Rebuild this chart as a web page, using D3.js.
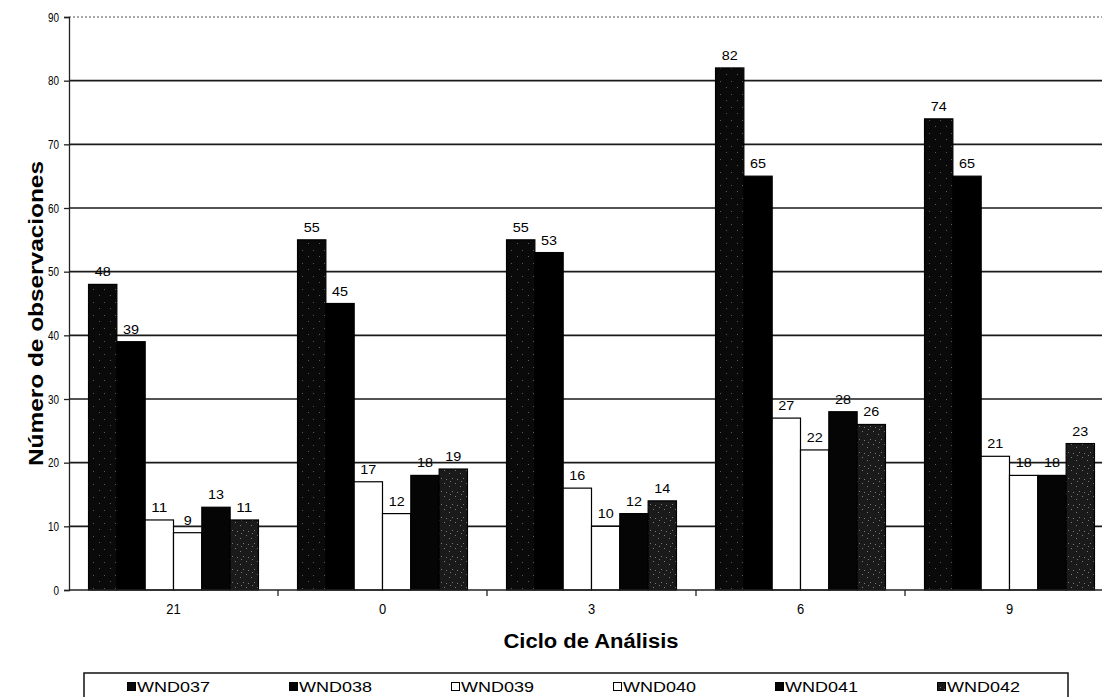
<!DOCTYPE html>
<html>
<head>
<meta charset="utf-8">
<script src="https://cdn.jsdelivr.net/npm/d3@7/dist/d3.min.js"></script>
<style>
  html, body { margin: 0; padding: 0; background: #fff; }
  svg { display: block; }
  text { font-family: "Liberation Sans", Arial, sans-serif; fill: #000; }
</style>
</head>
<body>
<svg id="chart" width="1102" height="697"></svg>
<script>
// Observations per analysis cycle, one array per sample series
const cycles = ["21", "0", "3", "6", "9"];
const seriesNames = ["WND037", "WND038", "WND039", "WND040", "WND041", "WND042"];
const wnd037 = [48, 55, 55, 82, 74];
const wnd038 = [39, 45, 53, 65, 65];
const wnd039 = [11, 17, 16, 27, 21];
const wnd040 = [9, 12, 10, 22, 18];
const wnd041 = [13, 18, 12, 28, 18];
const wnd042 = [11, 19, 14, 26, 23];
const yTicks = [0, 10, 20, 30, 40, 50, 60, 70, 80, 90];

const seriesValues = [wnd037, wnd038, wnd039, wnd040, wnd041, wnd042];
const fills = ["url(#speckDark)", "#000", "#fff", "#fff", "#050505", "url(#speckGray)"];

const svg = d3.select("#chart");

// speckled fills for the textured series
const defs = svg.append("defs");
function speckle(id, base, dot, dots) {
  const p = defs.append("pattern").attr("id", id)
    .attr("patternUnits", "userSpaceOnUse").attr("width", 11).attr("height", 13);
  p.append("rect").attr("width", 11).attr("height", 13).attr("fill", base);
  dots.forEach(([x, y]) => p.append("rect").attr("x", x).attr("y", y)
    .attr("width", 1).attr("height", 1).attr("fill", dot));
}
speckle("speckDark", "#0a0a0a", "#5a5a5a", [[2, 3], [8, 9]]);
speckle("speckGray", "#1a1a1a", "#7a7a7a", [[1, 2], [6, 5], [9, 10], [3, 11], [7, 0]]);

const plotLeft = 69, plotRight = 1114, plotTop = 17, plotBottom = 590;

const x0 = d3.scaleBand().domain(cycles).range([plotLeft, plotRight]).paddingInner(0).paddingOuter(0);
const x1 = d3.scaleBand().domain(seriesNames).range([0, x0.bandwidth()]).paddingOuter(0.69).paddingInner(0);
const y = d3.scaleLinear().domain([0, 90]).range([plotBottom, plotTop]);

// horizontal gridlines
svg.append("g").selectAll("line")
  .data(yTicks.filter(t => t > 0))
  .join("line")
  .attr("x1", plotLeft).attr("x2", plotRight)
  .attr("y1", d => y(d)).attr("y2", d => y(d))
  .attr("stroke", d => d === 90 ? "#555" : "#1a1a1a")
  .attr("stroke-width", d => d === 90 ? 1 : 1.6)
  .attr("stroke-dasharray", d => d === 90 ? "2,2" : null);

// bars
const groups = svg.append("g").selectAll("g")
  .data(cycles)
  .join("g")
  .attr("transform", d => `translate(${x0(d)},0)`);

groups.selectAll("rect")
  .data((c, i) => seriesNames.map((s, k) => ({ s, k, v: seriesValues[k][i] })))
  .join("rect")
  .attr("x", d => x1(d.s))
  .attr("y", d => y(d.v))
  .attr("width", x1.bandwidth())
  .attr("height", d => y(0) - y(d.v))
  .attr("fill", d => fills[d.k])
  .attr("stroke", "#000")
  .attr("stroke-width", 1.2);

// value labels
groups.selectAll("text")
  .data((c, i) => seriesNames.map((s, k) => ({ s, k, v: seriesValues[k][i] })))
  .join("text")
  .attr("x", d => x1(d.s) + x1.bandwidth() / 2)
  .attr("y", d => y(d.v) - 8)
  .attr("text-anchor", "middle")
  .attr("font-size", 13)
  .attr("textLength", d => String(d.v).length * 8)
  .attr("lengthAdjust", "spacingAndGlyphs")
  .text(d => d.v);

// y axis
const yAxis = d3.axisLeft(y).tickValues(yTicks).tickSize(5).tickPadding(5);
const gy = svg.append("g").attr("transform", `translate(${plotLeft},0)`).call(yAxis);
gy.select(".domain").attr("stroke", "#222").attr("stroke-width", 1.3);
gy.selectAll(".tick line").attr("stroke", "#222").attr("stroke-width", 1.3);
gy.selectAll(".tick text")
  .attr("font-size", 12.5)
  .attr("font-family", "Liberation Sans, Arial, sans-serif")
  .attr("fill", "#000")
  .attr("textLength", d => String(d).length * 5.5)
  .attr("lengthAdjust", "spacingAndGlyphs");

// x axis: ticks sit on category boundaries, labels centred in each category
const gx = svg.append("g").attr("transform", `translate(0,${plotBottom})`);
gx.append("line").attr("x1", plotLeft).attr("x2", plotRight).attr("y1", 0).attr("y2", 0)
  .attr("stroke", "#222").attr("stroke-width", 1.6);
gx.selectAll("line.tk")
  .data(cycles.slice(1))
  .join("line").attr("class", "tk")
  .attr("x1", d => x0(d)).attr("x2", d => x0(d))
  .attr("y1", 0).attr("y2", 6)
  .attr("stroke", "#222").attr("stroke-width", 1.3);
gx.selectAll("text")
  .data(cycles)
  .join("text")
  .attr("x", d => x0(d) + x0.bandwidth() / 2)
  .attr("y", 24)
  .attr("text-anchor", "middle")
  .attr("font-size", 14)
  .attr("textLength", d => d.length * 7.2)
  .attr("lengthAdjust", "spacingAndGlyphs")
  .text(d => d);

// axis titles
svg.append("text")
  .attr("x", 591).attr("y", 648)
  .attr("text-anchor", "middle")
  .attr("font-size", 20).attr("font-weight", "bold")
  .attr("textLength", 175).attr("lengthAdjust", "spacingAndGlyphs")
  .text("Ciclo de Análisis");

svg.append("text")
  .attr("transform", `translate(43,${(plotTop + plotBottom) / 2 + 10}) rotate(-90)`)
  .attr("text-anchor", "middle")
  .attr("font-size", 20).attr("font-weight", "bold")
  .attr("textLength", 305).attr("lengthAdjust", "spacingAndGlyphs")
  .text("Número de observaciones");

// legend
const legend = svg.append("g");
legend.append("rect")
  .attr("x", 84).attr("y", 673).attr("width", 984).attr("height", 40)
  .attr("fill", "#fff").attr("stroke", "#111").attr("stroke-width", 1.5);
const legendX = d3.scalePoint().domain(seriesNames).range([127, 937]);
const items = legend.selectAll("g.item")
  .data(seriesNames)
  .join("g").attr("class", "item")
  .attr("transform", d => `translate(${legendX(d)},0)`);
items.append("rect")
  .attr("x", 0.5).attr("y", 682.5).attr("width", 8).attr("height", 8)
  .attr("fill", (d, k) => fills[k]).attr("stroke", "#000").attr("stroke-width", 1);
items.append("text")
  .attr("x", 10).attr("y", 692)
  .attr("font-size", 15)
  .attr("textLength", 73).attr("lengthAdjust", "spacingAndGlyphs")
  .text(d => d);
</script>
</body>
</html>
